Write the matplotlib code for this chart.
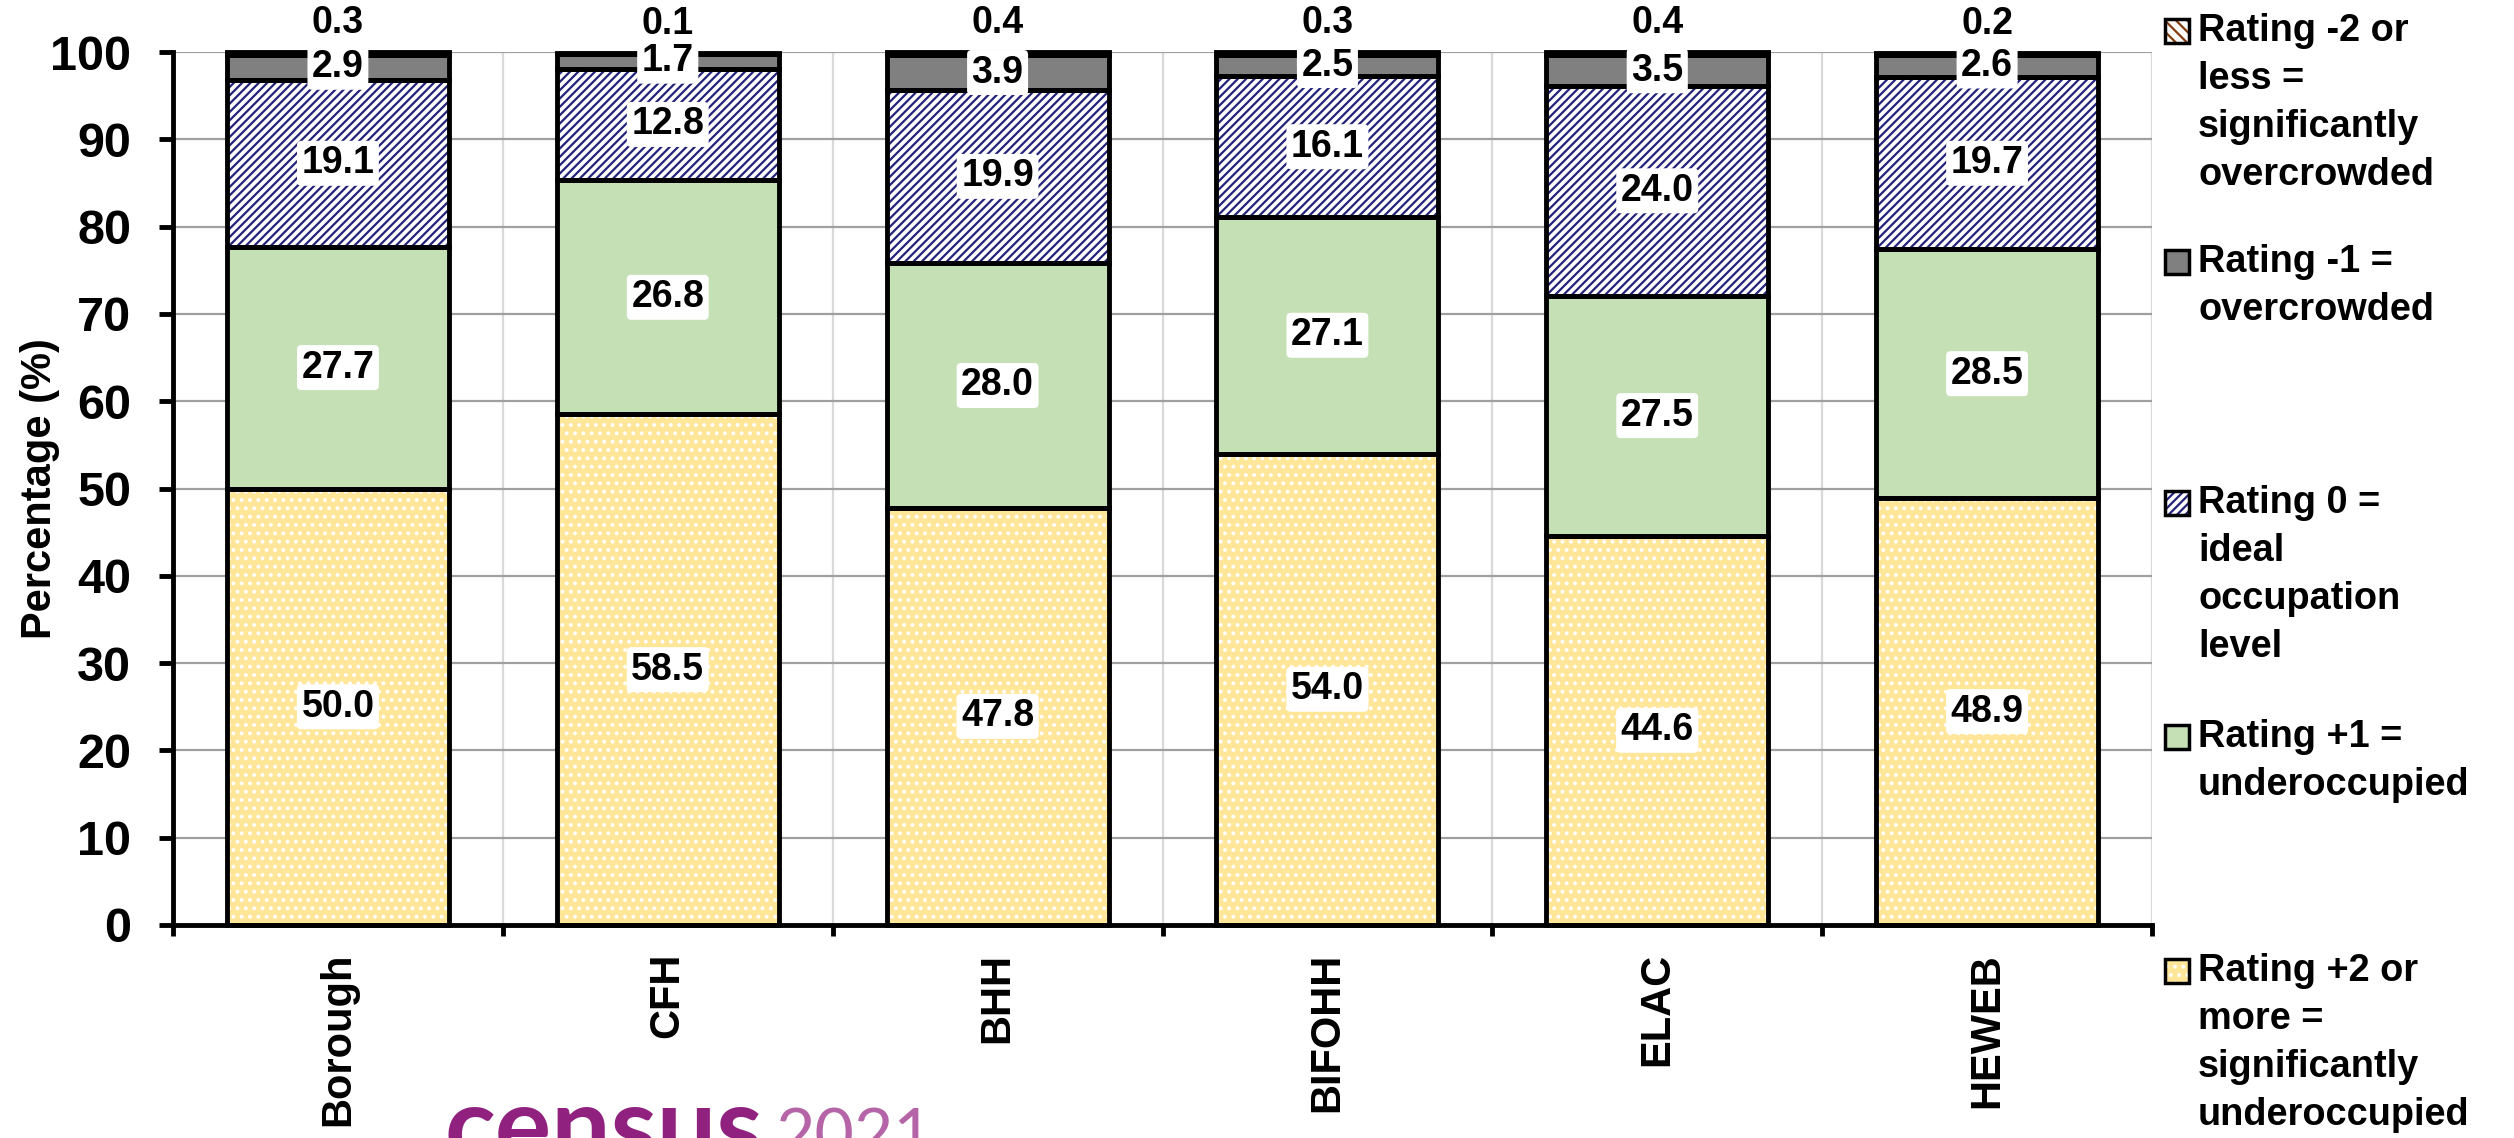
import matplotlib
matplotlib.use('Agg')
import matplotlib.pyplot as plt
from matplotlib.patches import Rectangle
import numpy as np

# ---------------- data ----------------
categories = ['Borough', 'CFH', 'BHH', 'BIFOHH', 'ELAC', 'HEWEB']
rating_plus2 = [50.0, 58.5, 47.8, 54.0, 44.6, 48.9]
rating_plus1 = [27.7, 26.8, 28.0, 27.1, 27.5, 28.5]
rating_0 = [19.1, 12.8, 19.9, 16.1, 24.0, 19.7]
rating_minus1 = [2.9, 1.7, 3.9, 2.5, 3.5, 2.6]
rating_minus2 = [0.3, 0.1, 0.4, 0.3, 0.4, 0.2]
series_labels = [
    'Rating +2 or\nmore =\nsignificantly\nunderoccupied',
    'Rating +1 =\nunderoccupied',
    'Rating 0 =\nideal\noccupation\nlevel',
    'Rating -1 =\novercrowded',
    'Rating -2 or\nless =\nsignificantly\novercrowded',
]
y_ticks = [0, 10, 20, 30, 40, 50, 60, 70, 80, 90, 100]
y_label = 'Percentage (%)'

series = [rating_plus2, rating_plus1, rating_0, rating_minus1, rating_minus2]
# (face colour, hatch colour, hatch)
styles = [
    ('#FFE699', 'white', '..'),
    ('#C5E0B4', '#C5E0B4', None),
    ('white', '#23237A', '////'),
    ('#808080', '#808080', None),
    ('white', '#843C0C', '\\\\\\'),
]

plt.rcParams['font.family'] = ['Liberation Sans', 'DejaVu Sans']
plt.rcParams['hatch.linewidth'] = 1.6

W, H = 2514, 1138
fig = plt.figure(figsize=(W / 100, H / 100), dpi=100)
ax_l, ax_r, ax_t, ax_b = 173, 2152, 52, 925
ax = fig.add_axes([ax_l / W, 1 - ax_b / H, (ax_r - ax_l) / W, (ax_b - ax_t) / H])

x = np.arange(len(categories))
bw = 0.673
bottom = np.zeros(len(categories))
n_series = len(series)
for si, (vals, (fc, hc, hatch)) in enumerate(zip(series, styles)):
    vals = np.array(vals)
    ax.bar(x, vals, width=bw, bottom=bottom, color=fc, edgecolor=hc,
           linewidth=0, hatch=hatch, zorder=2, clip_on=False)
    ax.bar(x, vals, width=bw, bottom=bottom, fill=False, edgecolor='black',
           linewidth=3.5, zorder=3, clip_on=False)
    for xi, b, v in zip(x, bottom, vals):
        if si == n_series - 1:
            ax.annotate(f'{v:.1f}', xy=(xi, b + v), xytext=(0, 21),
                        textcoords='offset points', ha='center', va='center',
                        fontsize=27, fontweight='bold', zorder=6,
                        annotation_clip=False)
        else:
            ax.text(xi, b + v / 2, f'{v:.1f}', ha='center', va='center',
                    fontsize=27, fontweight='bold', zorder=6,
                    bbox=dict(boxstyle='round,pad=0.12', fc='white', ec='none'))
    bottom = bottom + vals

ax.set_xlim(-0.5, len(categories) - 0.5)
ax.set_ylim(0, 100)
ax.set_yticks(y_ticks)
ax.set_yticklabels([str(t) for t in y_ticks], fontsize=35, fontweight='bold')
ax.tick_params(axis='y', length=10, width=3.5, pad=20, direction='out')

ax.set_xticks(np.arange(-0.5, len(categories), 1.0))
ax.set_xticklabels([])
ax.set_xticks(x, minor=True)
ax.set_xticklabels(categories, minor=True, rotation=90, fontsize=30,
                   fontweight='bold', va='top')
ax.tick_params(axis='x', which='minor', length=0, pad=20)
ax.tick_params(axis='x', which='major', length=8, width=3.5, direction='out')

ax.xaxis.grid(True, which='major', color='#D9D9D9', linewidth=1.6)
ax.yaxis.grid(True, which='major', color='#A0A0A0', linewidth=1.6)
ax.set_axisbelow(True)
for s in ['top', 'right']:
    ax.spines[s].set_visible(False)
for s in ['left', 'bottom']:
    ax.spines[s].set_linewidth(3.5)
    ax.spines[s].set_color('black')

ax.set_ylabel(y_label, fontsize=30, fontweight='bold', va='center')
ax.yaxis.set_label_coords((40 - ax_l) / (ax_r - ax_l), 0.5)

# ---------------- legend (manual, Excel-like spacing) ----------------
leg_first_lines = [31, 262, 503, 737, 971]
line_h = 48
for i in range(n_series):
    si = n_series - 1 - i
    fc, hc, hatch = styles[si]
    y0 = leg_first_lines[i]
    for k, line in enumerate(series_labels[si].split('\n')):
        fig.text(2198 / W, 1 - (y0 + k * line_h) / H, line, ha='left',
                 va='center', fontsize=27.3, fontweight='bold')
    sz = 24
    rx, ry = 2165, y0 - sz / 2
    fig.add_artist(Rectangle((rx / W, 1 - (ry + sz) / H), sz / W, sz / H,
                             transform=fig.transFigure, facecolor=fc,
                             edgecolor=hc, linewidth=0, hatch=hatch))
    fig.add_artist(Rectangle((rx / W, 1 - (ry + sz) / H), sz / W, sz / H,
                             transform=fig.transFigure, fill=False,
                             edgecolor='black', linewidth=2.5))

# ---------------- census 2021 logo text (cut off at bottom, as in source) ----------------
fig.text(444 / W, 1 - 1162 / H, 'census', ha='left', va='baseline',
         fontsize=76, fontweight='bold', color='#90217F', family=['Lato', 'DejaVu Sans'])
fig.text(776 / W, 1 - 1158 / H, '2021', ha='left', va='baseline',
         fontsize=49, fontweight='normal', color='#B565A7', family=['Lato', 'DejaVu Sans'])

fig.savefig('out.png', dpi=100)
